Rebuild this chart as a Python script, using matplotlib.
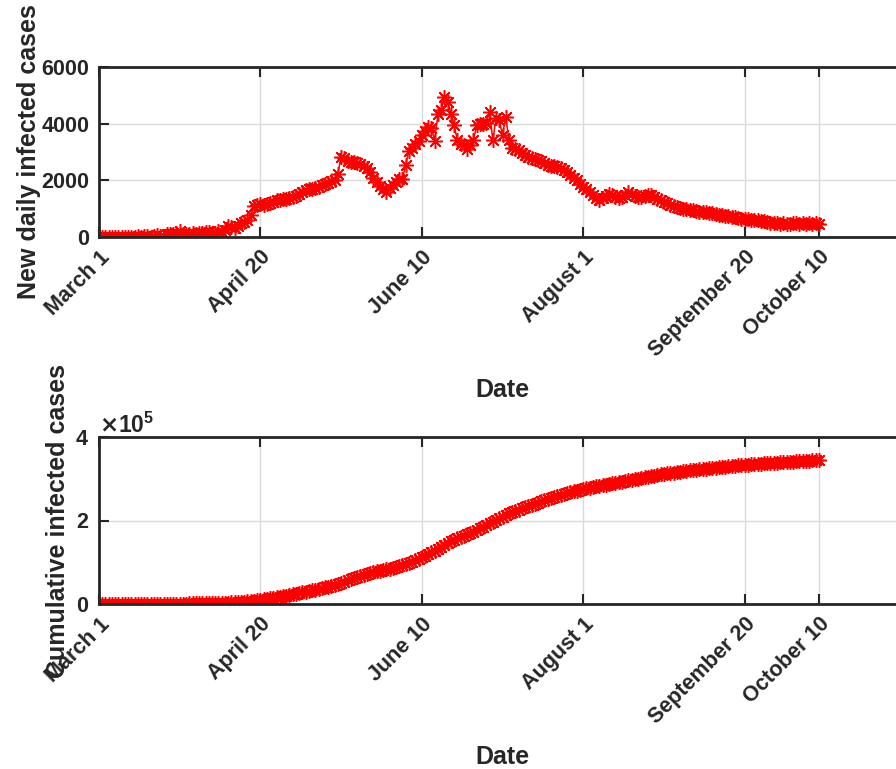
import numpy as np
import matplotlib
matplotlib.use("Agg")
import matplotlib.pyplot as plt
from matplotlib.ticker import ScalarFormatter

plt.rcParams['font.family'] = ['Liberation Sans', 'DejaVu Sans']
plt.rcParams['font.weight'] = 'bold'

# Daily new infected cases, one value per day starting March 1
daily_cases = [
    0, 0, 0, 1, 0, 0, 2, 0, 1, 3,
    4, 6, 20, 17, 24, 38, 15, 23, 70, 36,
    51, 119, 100, 112, 133, 205, 92, 99, 96, 154,
    110, 157, 140, 180, 190, 140, 138, 205, 190, 240,
    380, 360, 330, 380, 490, 520, 590, 760, 1090, 1120,
    1150, 1140, 1170, 1200, 1250, 1290, 1300, 1330, 1350, 1360,
    1400, 1450, 1520, 1580, 1650, 1690, 1700, 1720, 1760, 1830,
    1880, 1920, 1960, 2020, 2240, 2840, 2780, 2700, 2640, 2650,
    2600, 2590, 2520, 2450, 2300, 2100, 1940, 1800, 1700, 1600,
    1720, 1850, 1950, 2050, 2060, 2550, 3050, 3150, 3300, 3400,
    3600, 3750, 3900, 3850, 3400, 4350, 4500, 4950, 4780, 4350,
    3950, 3420, 3300, 3240, 3120, 3250, 3420, 3950, 3980, 4000,
    4010, 4420, 3420, 4190, 4130, 3600, 4240, 3420, 3150, 3120,
    3060, 2980, 2900, 2840, 2790, 2750, 2710, 2680, 2600, 2540,
    2520, 2490, 2470, 2420, 2370, 2300, 2200, 2100, 2000, 1880,
    1770, 1700, 1600, 1480, 1360, 1300, 1380, 1450, 1530, 1470,
    1400, 1360, 1420, 1500, 1590, 1520, 1460, 1420, 1410, 1450,
    1480, 1470, 1400, 1340, 1290, 1240, 1190, 1140, 1100, 1060,
    1030, 1000, 980, 960, 940, 920, 900, 885, 870, 850,
    830, 810, 790, 770, 750, 730, 710, 690, 670, 650,
    640, 630, 610, 600, 590, 570, 550, 530, 510, 500,
    480, 470, 480, 460, 470, 490, 480, 470, 500, 460,
    480, 470, 490, 460,
]

# Tick positions (days since March 1) and their date labels
tick_days = [0, 50, 100, 150, 200, 223]
tick_labels = ['March 1', 'April 20', 'June 10', 'August 1',
               'September 20', 'October 10']

days = np.arange(len(daily_cases))
cumulative_cases = np.cumsum(daily_cases)

W, H = 896, 769
fig = plt.figure(figsize=(W / 100, H / 100), dpi=100)

left = 99 / W
width = (906 - 99) / W
ax1 = fig.add_axes([left, 1 - 237 / H, width, 170 / H])
ax2 = fig.add_axes([left, 1 - 604 / H, width, 167 / H])

tick_fs = 15.5
label_fs = 18
spine_col = '#262626'

for ax, y, ylab, ypad in [(ax1, daily_cases, 'New daily infected cases', 0),
                          (ax2, cumulative_cases, 'Cumulative infected cases', 4)]:
    ax.plot(days, y, '-', color='red', lw=1.1,
            marker=(8, 2, 0), ms=10.5, mew=1.1, mec='red')
    ax.set_xlim(0, 250)
    ax.set_xticks(tick_days)
    ax.set_xticklabels(tick_labels, rotation=45, ha='right',
                       rotation_mode='anchor', fontsize=tick_fs,
                       fontweight='bold')
    ax.tick_params(direction='in', length=7, width=1.5, colors=spine_col,
                   labelsize=tick_fs, top=True, right=True, pad=7)
    ax.grid(True, color='#dadada', lw=1.0)
    ax.set_axisbelow(True)
    for s in ax.spines.values():
        s.set_color(spine_col)
        s.set_linewidth(2.0)
    ax.set_xlabel('Date', fontsize=label_fs, fontweight='bold',
                  color=spine_col, labelpad=12)
    ax.set_ylabel(ylab, fontsize=label_fs, fontweight='bold',
                  color=spine_col, labelpad=ypad)

ax1.set_ylim(0, 6000)
ax1.set_yticks([0, 2000, 4000, 6000])

ax2.set_ylim(0, 4e5)
ax2.set_yticks([0, 2e5, 4e5])
fmt = ScalarFormatter(useMathText=True)
fmt.set_powerlimits((0, 0))
ax2.yaxis.set_major_formatter(fmt)
ax2.yaxis.get_offset_text().set_fontsize(tick_fs + 1)
ax2.yaxis.get_offset_text().set_color(spine_col)

for ax in (ax1, ax2):
    for lbl in ax.get_xticklabels() + ax.get_yticklabels():
        lbl.set_fontweight('bold')
        lbl.set_color(spine_col)

fig.savefig('out.png', dpi=100)
